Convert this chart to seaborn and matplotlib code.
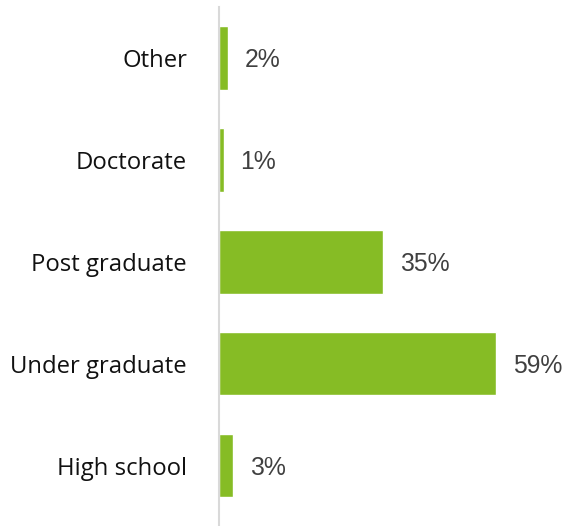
import matplotlib
matplotlib.use("Agg")
import matplotlib.pyplot as plt
import seaborn as sns
import pandas as pd

categories = ["Other", "Doctorate", "Post graduate", "Under graduate", "High school"]
values = [2, 1, 35, 59, 3]
value_labels = ["2%", "1%", "35%", "59%", "3%"]

df = pd.DataFrame({"level": categories, "share": values})

sns.set_theme(style="white")
plt.rcParams["font.family"] = ["Open Sans", "DejaVu Sans"]

fig = plt.figure(figsize=(5.65, 5.26), dpi=100)
ax = fig.add_axes([219 / 565, 0 / 526, 346 / 565, 519 / 526])

sns.barplot(data=df, x="share", y="level", order=categories, color="#86BC25",
            saturation=1, width=0.62, ax=ax, orient="h")

ax.set_xlim(0, 59 * 346 / 277)
ax.set_ylim(4.59, -0.5)

for i, (v, lab) in enumerate(zip(values, value_labels)):
    ax.annotate(lab, xy=(v, i), xytext=(12, -1.5), textcoords="offset points",
                va="center", ha="left", fontsize=17.8, color="#404040",
                family=["Liberation Sans", "DejaVu Sans"])

ax.set_xlabel("")
ax.set_ylabel("")
ax.set_xticks([])
ax.tick_params(axis="y", length=0, pad=23, labelsize=17.2, labelcolor="#111111")
for s in ["top", "right", "bottom"]:
    ax.spines[s].set_visible(False)
ax.spines["left"].set_color("#D9D9D9")
ax.spines["left"].set_linewidth(1.5)

fig.savefig("out.png", dpi=100)
